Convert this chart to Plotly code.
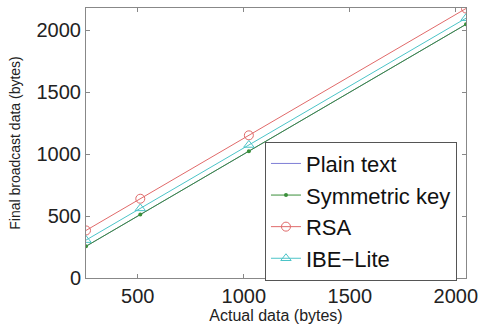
import plotly.graph_objects as go

actual = [256, 512, 1024, 2048]
plain_text = [256, 512, 1024, 2048]
symmetric_key = [256, 512, 1024, 2048]
rsa = [384, 640, 1152, 2176]
ibe_lite = [306, 562, 1074, 2098]

x_ticks = [500, 1000, 1500, 2000]
y_ticks = [0, 500, 1000, 1500, 2000]

fig = go.Figure()
fig.add_trace(go.Scatter(x=actual, y=plain_text, name="Plain text", mode="lines",
                         line=dict(color="#7f7fd6", width=1)))
fig.add_trace(go.Scatter(x=actual, y=symmetric_key, name="Symmetric key", mode="lines+markers",
                         line=dict(color="#3a8f3a", width=1),
                         marker=dict(symbol="circle", size=4, color="#3a8f3a")))
fig.add_trace(go.Scatter(x=actual, y=rsa, name="RSA", mode="lines+markers",
                         line=dict(color="#e06a6a", width=1),
                         marker=dict(symbol="circle-open", size=9, color="#e06a6a", line=dict(width=1))))
fig.add_trace(go.Scatter(x=actual, y=ibe_lite, name="IBE\u2212Lite", mode="lines+markers",
                         line=dict(color="#4cc4c8", width=1),
                         marker=dict(symbol="triangle-up-open", size=9, color="#4cc4c8", line=dict(width=1))))

axis_common = dict(showline=True, linecolor="#888888", linewidth=1, mirror="ticks",
                   ticks="inside", ticklen=4, tickcolor="#888888", showgrid=False, zeroline=False,
                   tickfont=dict(family="Liberation Sans, Arial", size=20, color="#222222"))

fig.update_xaxes(range=[256, 2048], tickvals=x_ticks, ticktext=[str(v) for v in x_ticks],
                 title=dict(text="Actual data (bytes)", standoff=0,
                            font=dict(family="Liberation Sans, Arial", size=16, color="#222222")),
                 **axis_common)
fig.update_yaxes(range=[0, 2180], tickvals=y_ticks, ticktext=[str(v) for v in y_ticks],
                 title=dict(text="Final broadcast data (bytes)", standoff=12,
                            font=dict(family="Liberation Sans, Arial", size=14, color="#222222")),
                 **axis_common)

fig.update_layout(
    width=485, height=325,
    margin=dict(l=86, r=15, t=7, b=45),
    paper_bgcolor="white", plot_bgcolor="white",
    legend=dict(x=0.471, y=0.505, xanchor="left", yanchor="top",
                bordercolor="#555555", borderwidth=1, bgcolor="white",
                font=dict(family="Liberation Sans, Arial", size=22, color="#111111"),
                tracegroupgap=0),
    showlegend=True,
)

fig.write_html("out.html")
